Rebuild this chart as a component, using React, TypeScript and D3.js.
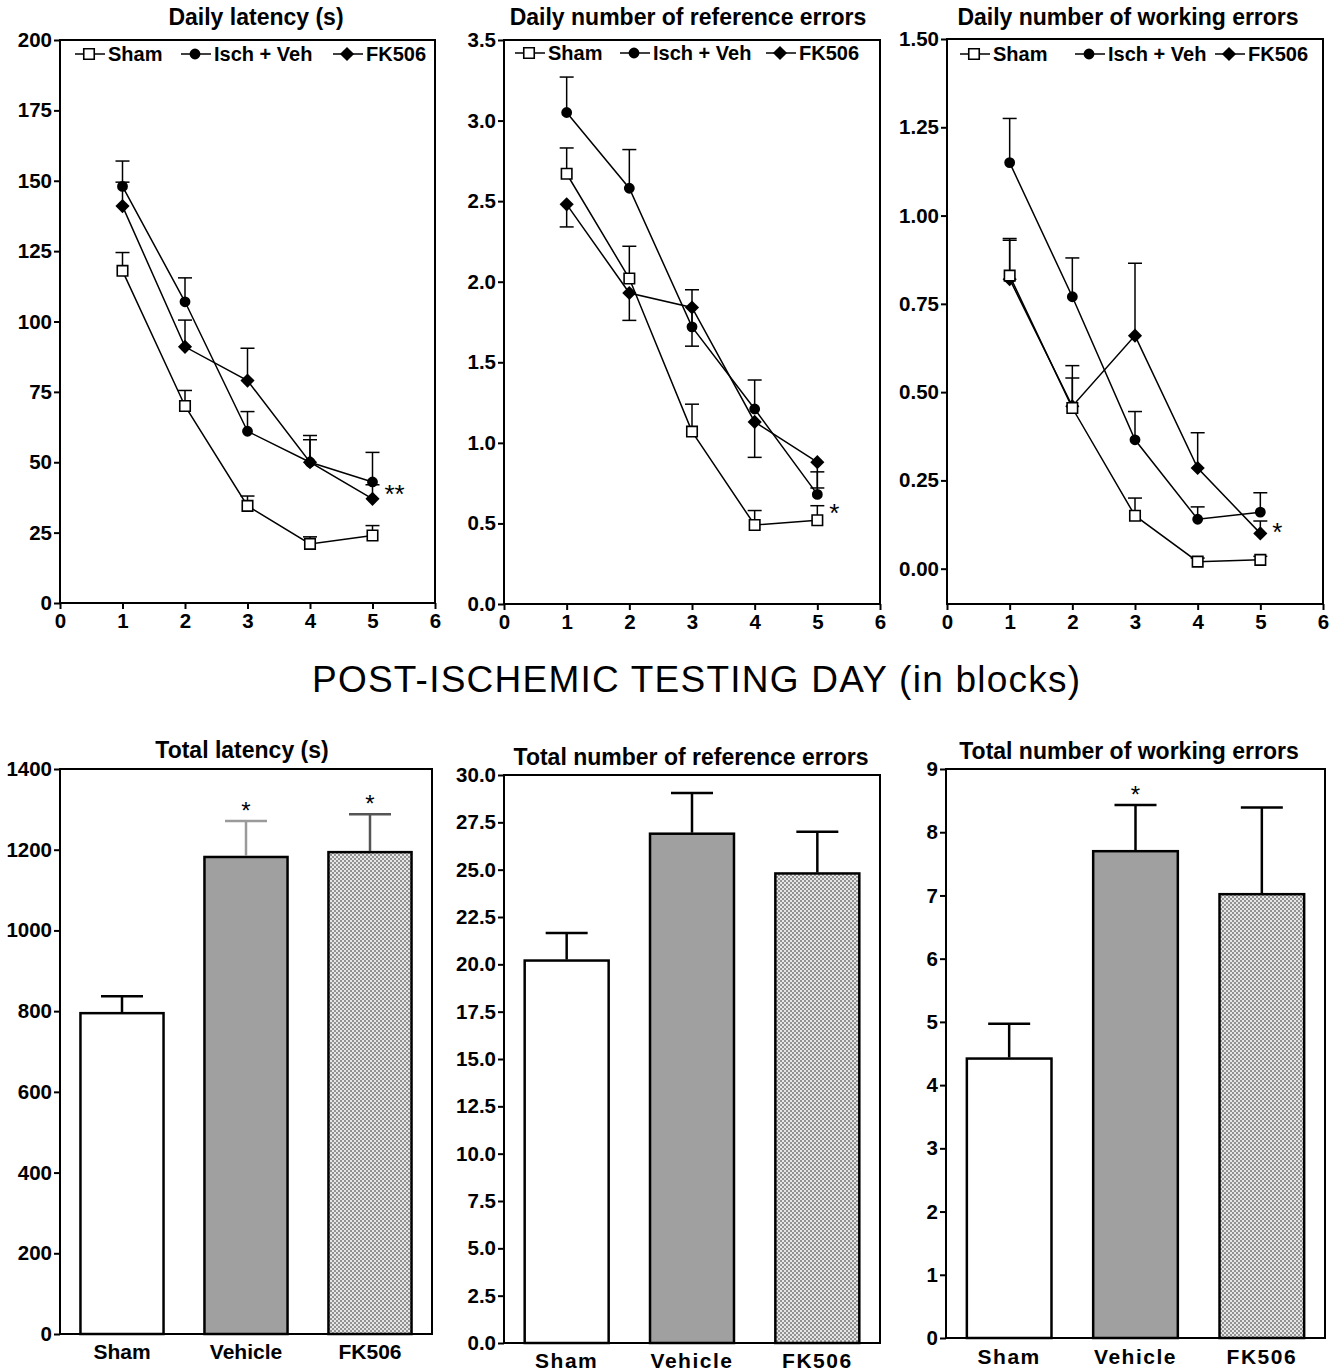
import React, { useEffect, useRef } from "react";
import * as d3 from "d3";

// ---- data ----
const days = [1, 2, 3, 4, 5];
const lineGroups = ["Sham", "Isch + Veh", "FK506"];
const barGroups = ["Sham", "Vehicle", "FK506"];

// daily latency (s)
const latSham = [118, 70, 34.5, 21, 24];
const latShamErr = [6.5, 5.5, 3.5, 2.5, 3.5];
const latIsch = [148, 107, 61, 50, 43];
const latIschErr = [9, 8.5, 7, 9.5, 10.5];
const latFk = [141, 91, 79, 50, 37];
const latFkErr = [8.5, 9.5, 11.5, 8, 5];

// daily reference errors
const refSham = [2.67, 2.02, 1.07, 0.49, 0.52];
const refShamErr = [0.16, 0.2, 0.17, 0.09, 0.09];
const refIsch = [3.05, 2.58, 1.72, 1.21, 0.68];
const refIschErr = [0.22, 0.24, 0.23, 0.18, 0.14];
const refFk = [2.48, 1.93, 1.84, 1.13, 0.88];
const refFkErr = [0.14, 0.17, 0.24, 0.22, 0.16];

// daily working errors
const workSham = [0.83, 0.455, 0.15, 0.02, 0.025];
const workShamErr = [0.1, 0.085, 0.05, 0.01, 0.01];
const workIsch = [1.15, 0.77, 0.365, 0.14, 0.16];
const workIschErr = [0.125, 0.11, 0.08, 0.035, 0.055];
const workFk = [0.82, 0.46, 0.66, 0.285, 0.1];
const workFkErr = [0.115, 0.115, 0.205, 0.1, 0.035];

// totals
const totLatency = [795, 1182, 1194];
const totLatencyErr = [42, 89, 94];
const totRef = [20.2, 26.9, 24.8];
const totRefErr = [1.45, 2.15, 2.2];
const totWork = [4.42, 7.7, 7.02];
const totWorkErr = [0.55, 0.73, 1.37];

const latTicks = [0, 25, 50, 75, 100, 125, 150, 175, 200];
const refTicks = [0, 0.5, 1, 1.5, 2, 2.5, 3, 3.5];
const workTicks = [0, 0.25, 0.5, 0.75, 1, 1.25, 1.5];
const dayTicks = [0, 1, 2, 3, 4, 5, 6];
const totLatTicks = [0, 200, 400, 600, 800, 1000, 1200, 1400];
const totRefTicks = [0, 2.5, 5, 7.5, 10, 12.5, 15, 17.5, 20, 22.5, 25, 27.5, 30];
const totWorkTicks = [0, 1, 2, 3, 4, 5, 6, 7, 8, 9];

const FONT = "'Liberation Sans', Arial, Helvetica, sans-serif";
const TICK_SIZE = 20.5;
const TITLE_SIZE = 23;

const App = () => {
  const ref = useRef<SVGSVGElement>(null);

  useEffect(() => {
    const svg = d3.select(ref.current);
    svg.selectAll("*").remove();

    const defs = svg.append("defs");
    const pat = defs
      .append("pattern")
      .attr("id", "chk")
      .attr("width", 4)
      .attr("height", 4)
      .attr("patternUnits", "userSpaceOnUse");
    pat.append("rect").attr("width", 4).attr("height", 4).attr("fill", "#e6e6e6");
    pat.append("rect").attr("width", 2).attr("height", 2).attr("fill", "#929292");
    pat.append("rect").attr("x", 2).attr("y", 2).attr("width", 2).attr("height", 2).attr("fill", "#929292");

    const styleAxis = (g, size) => {
      g.select(".domain").remove();
      g.selectAll(".tick line").attr("stroke", "#000").attr("stroke-width", 2);
      g.selectAll(".tick text")
        .attr("fill", "#000")
        .attr("font-family", FONT)
        .attr("font-weight", "bold")
        .attr("font-size", size);
    };

    const squareSym = d3.symbol().type(d3.symbolSquare).size(110);
    const circleSym = d3.symbol().type(d3.symbolCircle).size(92);
    const diamondSym = d3.symbol().type(d3.symbolSquare).size(100);

    const drawMarker = (g, kind, cx, cy) => {
      if (kind === "square") {
        g.append("path").attr("d", squareSym()).attr("transform", `translate(${cx},${cy})`)
          .attr("fill", "#fff").attr("stroke", "#000").attr("stroke-width", 1.6);
      } else if (kind === "circle") {
        g.append("path").attr("d", circleSym()).attr("transform", `translate(${cx},${cy})`).attr("fill", "#000");
      } else {
        g.append("path").attr("d", diamondSym()).attr("transform", `translate(${cx},${cy}) rotate(45)`).attr("fill", "#000");
      }
    };

    const linePanel = (p) => {
      const g = svg.append("g");
      const x = d3.scaleLinear().domain([0, 6]).range([p.left, p.right]);
      const y = d3.scaleLinear().domain(p.domain).range([p.bottom, p.top]);

      g.append("g")
        .attr("transform", `translate(${p.left},0)`)
        .call(d3.axisLeft(y).tickValues(p.ticks).tickSize(6).tickPadding(2).tickFormat(d3.format(p.fmt)))
        .call((a) => styleAxis(a, TICK_SIZE));
      g.append("g")
        .attr("transform", `translate(0,${p.bottom})`)
        .call(d3.axisBottom(x).tickValues(dayTicks).tickSize(6).tickPadding(4).tickFormat(d3.format("d")))
        .call((a) => styleAxis(a, TICK_SIZE));

      g.append("rect")
        .attr("x", p.left).attr("y", p.top)
        .attr("width", p.right - p.left).attr("height", p.bottom - p.top)
        .attr("fill", "none").attr("stroke", "#000").attr("stroke-width", 2);

      g.append("text")
        .attr("x", p.titleX).attr("y", 25)
        .attr("text-anchor", "middle")
        .attr("font-family", FONT).attr("font-weight", "bold").attr("font-size", TITLE_SIZE)
        .text(p.title);

      const line = d3.line<number>().x((d, i) => x(days[i])).y((d) => y(d));
      p.series.forEach((s) => {
        g.append("path").attr("d", line(s.mean)).attr("fill", "none").attr("stroke", "#000").attr("stroke-width", 1.5);
      });
      p.series.forEach((s) => {
        s.mean.forEach((m, i) => {
          const cx = x(days[i]);
          const ye = y(m + s.dir * s.err[i]);
          g.append("line").attr("x1", cx).attr("x2", cx).attr("y1", y(m)).attr("y2", ye)
            .attr("stroke", "#000").attr("stroke-width", 1.5);
          g.append("line").attr("x1", cx - 7).attr("x2", cx + 7).attr("y1", ye).attr("y2", ye)
            .attr("stroke", "#000").attr("stroke-width", 1.5);
        });
      });
      [...p.series].reverse().forEach((s) => {
        s.mean.forEach((m, i) => drawMarker(g, s.marker, x(days[i]), y(m)));
      });

      // legend
      p.series.forEach((s, i) => {
        const lx = p.left + p.legendX[i];
        g.append("line").attr("x1", lx).attr("x2", lx + 30).attr("y1", p.legendY).attr("y2", p.legendY)
          .attr("stroke", "#000").attr("stroke-width", 1.5);
        drawMarker(g, s.marker, lx + 14, p.legendY);
        g.append("text")
          .attr("x", lx + 33).attr("y", p.legendY + 7)
          .attr("font-family", FONT).attr("font-weight", "bold").attr("font-size", 20)
          .text(lineGroups[i]);
      });

      g.append("text")
        .attr("x", x(5) + 12).attr("y", y(p.starVal) + 15)
        .attr("font-family", FONT).attr("font-size", 26)
        .text(p.star);
    };

    const barPanel = (p) => {
      const g = svg.append("g");
      const x = d3.scaleBand().domain(barGroups).range([p.left, p.right]).paddingInner(0.33).paddingOuter(0.165);
      const y = d3.scaleLinear().domain(p.domain).range([p.bottom, p.top]);

      g.append("g")
        .attr("transform", `translate(${p.left},0)`)
        .call(d3.axisLeft(y).tickValues(p.ticks).tickSize(6).tickPadding(2).tickFormat(d3.format(p.fmt)))
        .call((a) => styleAxis(a, TICK_SIZE));

      const fills = ["#fff", "#a0a0a0", "url(#chk)"];
      g.selectAll("rect.bar")
        .data(p.mean)
        .join("rect")
        .attr("class", "bar")
        .attr("x", (d, i) => x(barGroups[i]))
        .attr("y", (d) => y(d))
        .attr("width", x.bandwidth())
        .attr("height", (d) => p.bottom - y(d))
        .attr("fill", (d, i) => fills[i])
        .attr("stroke", "#000")
        .attr("stroke-width", 2.5);

      p.mean.forEach((m, i) => {
        const cx = x(barGroups[i]) + x.bandwidth() / 2;
        const ye = y(m + p.err[i]);
        g.append("line").attr("x1", cx).attr("x2", cx).attr("y1", y(m) - 1).attr("y2", ye)
          .attr("stroke", p.errColor[i]).attr("stroke-width", 2.5);
        g.append("line").attr("x1", cx - 21).attr("x2", cx + 21).attr("y1", ye).attr("y2", ye)
          .attr("stroke", p.errColor[i]).attr("stroke-width", 2.5);
        if (p.stars[i]) {
          g.append("text")
            .attr("x", cx).attr("y", ye - 2)
            .attr("text-anchor", "middle")
            .attr("font-family", FONT).attr("font-size", 24)
            .text("*");
        }
        g.append("text")
          .attr("x", cx).attr("y", p.labelY)
          .attr("text-anchor", "middle")
          .attr("font-family", FONT).attr("font-weight", "bold").attr("font-size", 21)
          .attr("letter-spacing", p.spacing)
          .text(barGroups[i]);
      });

      g.append("rect")
        .attr("x", p.left).attr("y", p.top)
        .attr("width", p.right - p.left).attr("height", p.bottom - p.top)
        .attr("fill", "none").attr("stroke", "#000").attr("stroke-width", 2);

      g.append("text")
        .attr("x", p.titleX).attr("y", p.titleY)
        .attr("text-anchor", "middle")
        .attr("font-family", FONT).attr("font-weight", "bold").attr("font-size", TITLE_SIZE)
        .text(p.title);
    };

    linePanel({
      left: 60, right: 435, top: 40, bottom: 603,
      domain: [0, 200], ticks: latTicks, fmt: "d",
      title: "Daily latency (s)", titleX: 256,
      legendX: [15, 121, 273], legendY: 54,
      star: "**", starVal: 41,
      series: [
        { mean: latSham, err: latShamErr, dir: 1, marker: "square" },
        { mean: latIsch, err: latIschErr, dir: 1, marker: "circle" },
        { mean: latFk, err: latFkErr, dir: 1, marker: "diamond" },
      ],
    });
    linePanel({
      left: 504, right: 880, top: 40, bottom: 604,
      domain: [0, 3.5], ticks: refTicks, fmt: ".1f",
      title: "Daily number of reference errors", titleX: 688,
      legendX: [11, 116, 262], legendY: 53,
      star: "*", starVal: 0.6,
      series: [
        { mean: refSham, err: refShamErr, dir: 1, marker: "square" },
        { mean: refIsch, err: refIschErr, dir: 1, marker: "circle" },
        { mean: refFk, err: refFkErr, dir: -1, marker: "diamond" },
      ],
    });
    linePanel({
      left: 947, right: 1323, top: 39, bottom: 604,
      domain: [-0.1, 1.5], ticks: workTicks, fmt: ".2f",
      title: "Daily number of working errors", titleX: 1128,
      legendX: [13, 128, 268], legendY: 54,
      star: "*", starVal: 0.12,
      series: [
        { mean: workSham, err: workShamErr, dir: 1, marker: "square" },
        { mean: workIsch, err: workIschErr, dir: 1, marker: "circle" },
        { mean: workFk, err: workFkErr, dir: 1, marker: "diamond" },
      ],
    });

    svg.append("text")
      .attr("x", 696).attr("y", 692)
      .attr("text-anchor", "middle")
      .attr("font-family", FONT).attr("font-size", 37)
      .attr("textLength", 768)
      .text("POST-ISCHEMIC TESTING DAY  (in blocks)");

    barPanel({
      left: 60, right: 432, top: 769, bottom: 1334,
      domain: [0, 1400], ticks: totLatTicks, fmt: "d",
      title: "Total latency (s)", titleX: 242, titleY: 758,
      mean: totLatency, err: totLatencyErr,
      errColor: ["#000", "#9a9a9a", "#555"], stars: [false, true, true],
      labelY: 1359, spacing: 0,
    });
    barPanel({
      left: 504, right: 880, top: 775, bottom: 1343,
      domain: [0, 30], ticks: totRefTicks, fmt: ".1f",
      title: "Total number of reference errors", titleX: 691, titleY: 765,
      mean: totRef, err: totRefErr,
      errColor: ["#000", "#000", "#000"], stars: [false, false, false],
      labelY: 1368, spacing: 1.5,
    });
    barPanel({
      left: 946, right: 1325, top: 769, bottom: 1338,
      domain: [0, 9], ticks: totWorkTicks, fmt: "d",
      title: "Total number of working errors", titleX: 1129, titleY: 759,
      mean: totWork, err: totWorkErr,
      errColor: ["#000", "#000", "#000"], stars: [false, true, false],
      labelY: 1364, spacing: 1.5,
    });
  }, []);

  return (
    <svg
      ref={ref}
      width={1338}
      height={1371}
      style={{ position: "absolute", left: 0, top: 0, background: "#fff" }}
    ></svg>
  );
};

export default App;
